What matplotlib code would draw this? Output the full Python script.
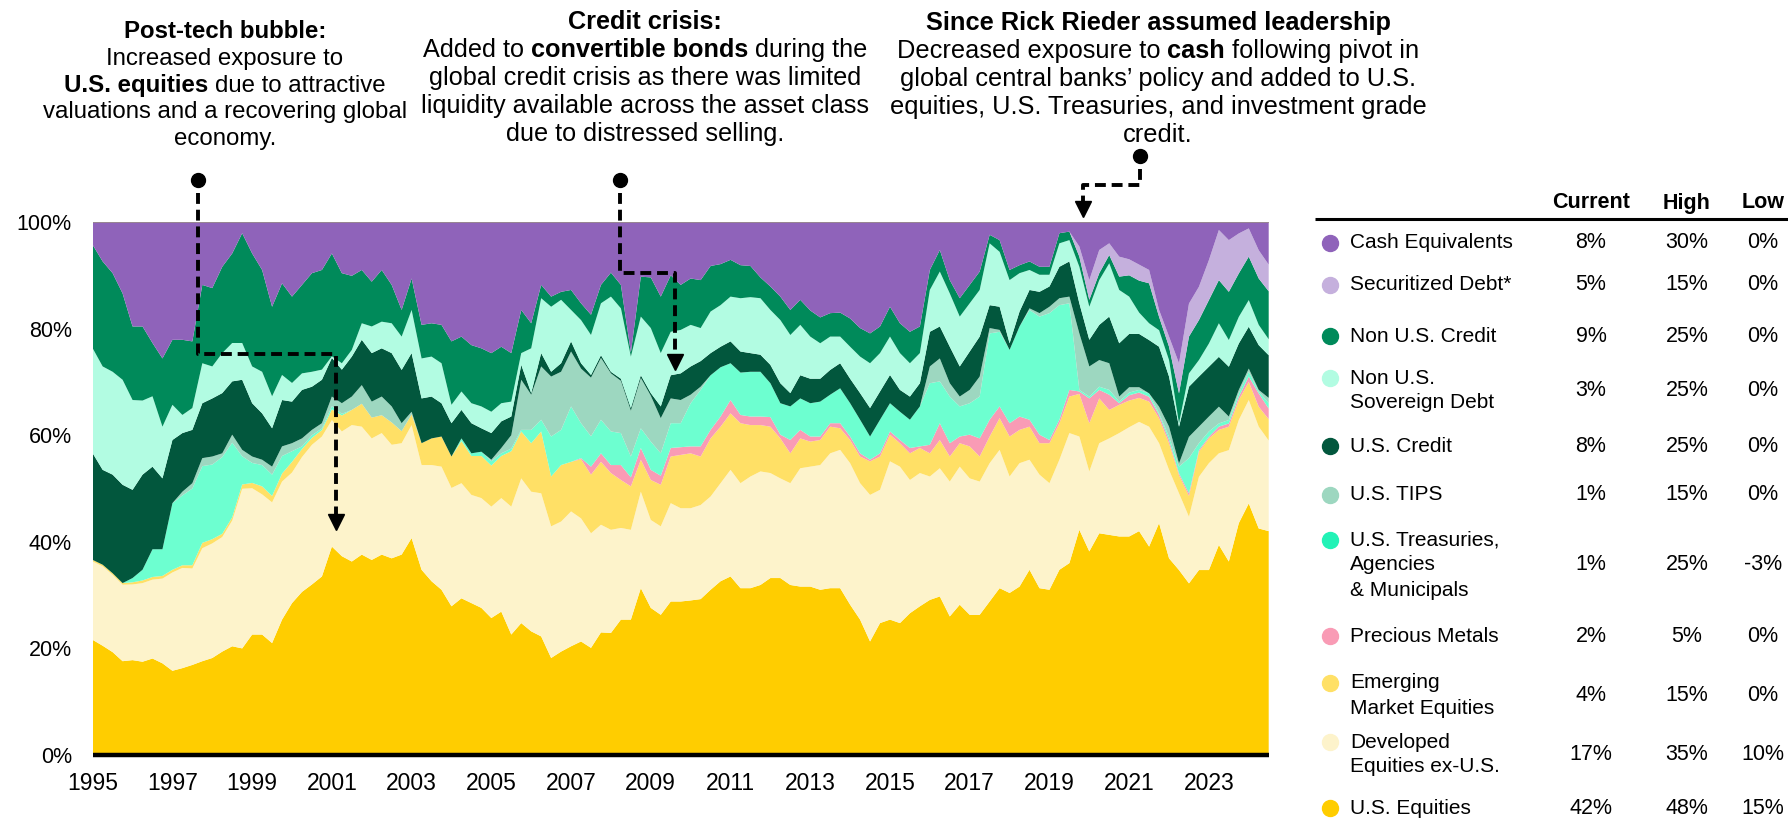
import pandas as pd
import matplotlib
matplotlib.use("Agg")
import matplotlib.pyplot as plt

plt.rcParams['font.family'] = ['Liberation Sans', 'DejaVu Sans']

# quarterly allocation, 1995Q1 .. 2024Q3 (percent of portfolio)
quarters = pd.period_range("1995Q1", "2024Q3", freq="Q")
years = quarters.year + (quarters.quarter - 1) / 4.0

us_equities = [
    21.6, 20.5, 19.3, 17.6, 17.8, 17.5, 18.1, 17.2, 15.8, 16.3, 16.9, 17.6, 18.2, 19.4, 20.4, 20, 22.6, 22.6, 21, 25.4, 28.5, 30.6, 32, 33.5, 39.1, 37.3,
    36.3, 37.6, 36.6, 37.6, 36.9, 37.6, 40.7, 34.75, 32.6, 31, 27.9, 29.4, 28.5, 27.6, 25.7, 26.9, 22.6, 24.75, 23.2, 22.25, 18.2, 19.4, 20.4, 21.3, 20.1, 23,
    22.9, 25.4, 25.4, 31.3, 27.6, 26.3, 28.8, 28.8, 29, 29.25, 31, 32.6, 33.5, 31.3, 31.3, 31.9, 33.2, 33.2, 31.9, 31.6, 31.6, 31, 31.3, 31.3, 28.2, 25.4,
    21.3, 24.75, 25.4, 24.75, 26.6, 27.9, 29.1, 29.75, 26, 28.2, 26.3, 26.3, 28.8, 31.3, 30.4, 31.6, 34.75, 31.3, 31, 34.75, 36, 42.25, 38.2, 41.6, 41.3, 41,
    41, 42, 39.1, 43.5, 36.9, 34.7, 32.2, 34.7, 34.7, 39.4, 36.3, 43.5, 47.2, 42.5, 42]
developed_ex_us = [
    14.7, 14.9, 14.5, 14.35, 14.2, 14.75, 14.8, 15.9, 18.45, 18.8, 18.1, 21.2, 21.5, 21.5, 23.6, 29.95, 27.45, 26.3, 26.4, 25.9, 24.5, 25.3, 26.2, 26.25, 23.75, 23.4,
    25.6, 24, 22.8, 22.8, 21.3, 20.9, 21.2, 19.65, 21.8, 23.1, 22.2, 21.6, 20.3, 20.6, 20.9, 21.3, 24, 27.15, 26.2, 26.85, 24.7, 24.4, 25.3, 23.1, 21.5, 20.2,
    19.35, 17.2, 16.85, 18.1, 16.5, 16.6, 18.45, 17.5, 17.3, 17.65, 17.5, 18.4, 20, 19.7, 20.95, 21.3, 19.7, 18.7, 19.1, 22.2, 22.5, 23.4, 25.3, 25.95, 26.55, 25.6,
    27.5, 25, 29.7, 29.35, 25, 25, 23.15, 24.05, 25.3, 25.9, 25.6, 25, 25.95, 25.95, 21.85, 23.15, 20.65, 21.3, 20, 20.65, 24.4, 17.5, 15, 16.9, 18.1, 19.4,
    20.5, 20.5, 22.5, 15, 16.6, 14.4, 12.5, 17.5, 20.05, 17.2, 20.9, 19.35, 19.4, 19.1, 17]
emerging_equities = [
    0.3, 0.3, 0.3, 0.3, 0.4, 0.5, 0.5, 0.5, 0.5, 0.5, 0.6, 1, 0.8, 0.6, 0.6, 0.8, 1, 1.5, 1.2, 1.5, 2, 1.5, 1.3, 1.2, 2, 3,
    2.85, 4.3, 3.9, 3.35, 4.2, 2.25, 2, 4.1, 5, 5.65, 5.9, 7.9, 7.3, 7.9, 7.7, 7.9, 10.4, 8.8, 9.1, 11.6, 9.35, 10.6, 9.3, 11.1, 11, 11.8,
    10.65, 9, 8.15, 6, 7.5, 7.8, 8.75, 10, 10.3, 9.1, 10.9, 10.6, 10.6, 11.25, 9.65, 8.7, 8.7, 7.5, 5.6, 5.6, 4.7, 4.7, 5, 4.05, 4.35, 5,
    6.3, 6.25, 5, 4.4, 5, 4.7, 4.35, 5.3, 4.7, 4.4, 6, 4.7, 5, 5.95, 7.5, 6.25, 6.2, 5.9, 7.5, 6.85, 6.85, 8, 9.05, 8.4, 5.35, 5.3,
    5, 4.5, 4.7, 4.7, 5, 3.4, 3.9, 4.7, 4.65, 4.4, 4.4, 3.75, 3.4, 3.75, 4]
precious_metals = [0.0] * 49 + [
    0.2, 1.5, 1.6,
    1.5, 2.8, 1.7, 2.2, 1.9, 1.7, 1.6, 1.45, 1.3, 1.9, 1.6, 1.9, 2.5, 1.55, 1.6, 1.6, 1.8, 0.7, 2.5, 1.6, 0.95, 0.65, 0.65, 0.95, 0.65, 0.6,
    0.3, 0.6, 0.6, 0.6, 1, 0.3, 1.6, 3.15, 2.5, 1.25, 2.2, 3.4, 3.15, 2.2, 2.5, 2.5, 1.3, 1.6, 0.6, 0.65, 1.25, 0.45, 4.65, 1.6, 2.85, 0.3,
    1, 1, 0.9, 0.6, 0.6, 0.35, 0.5, 0.3, 0.3, 0.6, 0.6, 0.6, 1, 2.5, 2]
us_treasuries = [
    0, 0, 0, 0, 0.8, 2, 5.2, 5, 12.5, 13.1, 14.4, 14.4, 14, 14.4, 14, 5.3, 3.75, 4, 4, 3.3, 2, 0.5, 0.5, 0.3, 0.6, 0.3,
    0, 0, 0, 0, 0, 0, 0, 0, 0, 0, 0, 0.5, 0.5, 0.8, 0.8, 0.5, 0.5, 0.3, 2.5, 2.2, 7.5, 6.6, 10.4, 6.55, 5.7, 6.3,
    6.3, 6, 3.9, 3.7, 5.3, 4.2, 4.65, 4.5, 8.1, 10.6, 10.25, 9.25, 6.9, 7.95, 8.4, 8.4, 6.35, 5.9, 6.3, 5.9, 6.25, 6.55, 5.35, 6.55, 6.25, 6.3,
    4.35, 6.3, 5.3, 5.3, 5.3, 7.5, 11.55, 7.85, 8.75, 5.65, 5.9, 7.85, 16.2, 14, 13.75, 16.9, 20.6, 22.15, 23.8, 21.5, 16.25, 0.3, 0.35, 0.6, 0.9, 0.3,
    0.5, 0.5, 0.65, 0.3, 0.6, 1.25, 6.6, 1.3, 1, 0.6, 0.65, 0.65, 0.9, 0.35, 1]
us_tips = [
    0, 0, 0, 0, 0, 0, 0, 0, 0, 0.7, 1, 1.5, 1.5, 0.7, 1.5, 1.2, 1.2, 1, 1.5, 1.8, 1.5, 1.5, 1, 1, 1.8, 2,
    2.5, 3.5, 3, 3.5, 3, 1.5, 0.5, 0, 0, 0, 0, 0, 0, 0, 0.3, 1, 2.5, 9.4, 6.6, 10, 11.25, 10.9, 10.3, 10.25, 11, 11.6,
    10.9, 9.8, 8.6, 9.45, 8.6, 6.6, 4.65, 4.35, 1.6, 0.6, 0, 0, 0, 0, 0, 0, 0, 0, 0, 0, 0, 0, 0, 0, 0, 0,
    0, 0, 0, 0, 0, 0, 3.15, 4.3, 2.5, 1.85, 2.5, 3.75, 1, 0.35, 0, 0, 0.3, 0.65, 1.2, 1.3, 1.25, 10.6, 5.65, 5, 5, 0.95,
    1, 0.5, 0, 1.25, 1.9, 0.6, 4, 3.1, 2.8, 3.15, 0.65, 0.65, 0.6, 0.3, 1]
us_credit = [
    20, 17.8, 18.5, 18.45, 16.55, 17.85, 15.5, 13.3, 11.85, 11, 10, 10.3, 10.9, 11.3, 10, 13.15, 10, 8.7, 7.2, 8.7, 7.8, 9.1, 8.1, 8.15, 7.25, 6.3,
    7.5, 8.5, 9.1, 9.05, 10, 10, 11, 8.4, 7.85, 6.25, 6.25, 5.35, 5.65, 4.4, 5, 5, 3.5, 2.8, 0.3, 2.5, 0.9, 1.6, 1.9, 1, 0.5, 0.5,
    0.3, 0.4, 0.5, 0.5, 0.5, 2.2, 4.35, 5, 5.3, 4.8, 4.15, 3.85, 4.1, 3.95, 3.5, 3.2, 3.45, 3.75, 2.5, 4.35, 4.6, 4.3, 4.65, 4.7, 4.6, 5,
    5.35, 5.3, 5.3, 4.1, 4.35, 4.35, 6.5, 6, 6.85, 5.65, 7.2, 7.5, 4.3, 4.35, 1.25, 2.8, 3.45, 4, 3.8, 5.9, 6.6, 5.65, 5, 6.6, 8.75, 10,
    10, 10, 10, 11.25, 9.4, 6.9, 9.4, 9.4, 9.35, 9.35, 9.35, 8.7, 7.85, 8.4, 8]
non_us_sovereign = [
    19.7, 19.4, 19.3, 19.7, 16.85, 13.9, 13.2, 9.7, 6.6, 3.4, 4.1, 7.5, 6, 7.5, 7.2, 6.9, 6.9, 7.8, 6, 4.7, 3.5, 3.1, 2.8, 1.9, 0.3, 1.2,
    1.25, 3.1, 5, 5, 5.6, 6.25, 8.1, 7.5, 7.5, 7.5, 3.45, 3.45, 3.75, 4.1, 4, 3.4, 2.8, 2.2, 8.4, 10.3, 12.2, 11.9, 5.9, 8.1, 7.5, 9.75,
    14.1, 13.2, 9.65, 11, 12.2, 10, 8.15, 8.15, 7.8, 6.2, 7.8, 7.8, 8.4, 10, 10.5, 10.6, 10.3, 11.85, 10.9, 9.45, 7.9, 6.65, 6.25, 5, 6, 6.85,
    8.4, 7.2, 7.2, 6.9, 6.25, 5.65, 7.85, 10.3, 10, 9.35, 9.05, 8.75, 11.6, 10.3, 11.85, 7.2, 3.75, 3.2, 2.2, 4.4, 4, 6.85, 6.2, 8.4, 10, 10,
    7, 4, 3.15, 3.1, 3.1, 0.6, 2.5, 3.1, 4.35, 6.3, 5, 5, 5, 3.8, 3]
non_us_credit = [
    19.4, 19.7, 18.5, 16.2, 13.8, 13.9, 10, 12.8, 12.2, 14.1, 12.5, 14.7, 14.7, 16.2, 16.8, 20.6, 21.2, 19.1, 16.8, 17.2, 16.2, 16.6, 18.5, 18.7, 19.3, 16.9,
    13.9, 10, 8.4, 9.7, 7.2, 5, 5.9, 6.3, 6.25, 7.2, 11.9, 10.3, 10.9, 10.9, 11, 10.6, 9.1, 8.1, 4.7, 2.5, 1.9, 1.5, 3.75, 3.15, 3.8, 3.45,
    4.5, 4.4, 0.75, 7.5, 9.5, 10.6, 10.6, 8.45, 8.7, 9, 8.55, 7.7, 6.9, 6.2, 5.85, 3.9, 4.4, 4.4, 4.7, 4.7, 4.9, 4.85, 4.4, 4.5, 5.3, 5.35,
    5.6, 5, 5.6, 5.6, 5.9, 5, 3.75, 4.05, 2.5, 3.45, 3.45, 3.45, 1.6, 2.2, 1.9, 1.5, 1.6, 1.5, 1.5, 1.9, 1.6, 1.9, 1.3, 1.3, 1.55, 2.5,
    4, 6, 7.5, 2.5, 2.5, 5.65, 6.9, 7.5, 8.15, 8.1, 9.05, 8.15, 8.15, 8.7, 9]
securitized_debt = [0.0] * 99 + [
    1.9, 3.7, 4.35, 2.2, 3.75,
    3, 3, 2.5, 1.3, 1.9, 5.65, 6.2, 6.25, 7.5, 9.4, 9.7, 7.5, 5.3, 5.3, 5]
cash_equivalents = [
    4.3, 7.4, 9.6, 13.4, 19.6, 19.6, 22.7, 25.6, 22.1, 22.1, 22.4, 11.8, 12.4, 8.4, 5.9, 2.1, 5.9, 9, 15.9, 11.5, 14, 11.8, 9.6, 9, 5.9, 9.6,
    10.1, 9, 11.2, 9, 11.8, 16.5, 10.6, 19.3, 19, 19.3, 22.4, 21.5, 23.1, 23.7, 24.6, 23.4, 24.6, 16.5, 19, 11.8, 14, 13.1, 12.75, 15.25, 17.4, 11.8,
    9.5, 11.8, 24.5, 10.25, 10.4, 14, 10, 11.8, 10.6, 10.9, 8.25, 7.9, 7.1, 8.1, 8.25, 10.4, 12.1, 14, 16.5, 14.6, 16.6, 17.9, 17.1, 17, 18.1, 19.9,
    20.9, 19.6, 15.9, 19, 20.6, 19.6, 9, 5.25, 10.9, 14.3, 11.8, 9.3, 2.4, 3.4, 9, 8.1, 7.4, 8.4, 8.4, 2.1, 1.8, 4.6, 10.9, 5.25, 4, 6.5,
    7, 8, 9, 16.5, 21.5, 26.5, 15.3, 12.15, 7.15, 1.5, 3.4, 2.15, 1.2, 5.3, 8]

# table on the right (top to bottom)
table_labels = [["Cash Equivalents"], ["Securitized Debt*"], ["Non U.S. Credit"],
                ["Non U.S.", "Sovereign Debt"], ["U.S. Credit"], ["U.S. TIPS"],
                ["U.S. Treasuries,", "Agencies", "& Municipals"], ["Precious Metals"],
                ["Emerging", "Market Equities"], ["Developed", "Equities ex-U.S."], ["U.S. Equities"]]
current = ["8%", "5%", "9%", "3%", "8%", "1%", "1%", "2%", "4%", "17%", "42%"]
high = ["30%", "15%", "25%", "25%", "25%", "15%", "25%", "5%", "15%", "35%", "48%"]
low = ["0%", "0%", "0%", "0%", "0%", "0%", "-3%", "0%", "0%", "10%", "15%"]

series = [us_equities, developed_ex_us, emerging_equities, precious_metals, us_treasuries,
          us_tips, us_credit, non_us_sovereign, non_us_credit, securitized_debt, cash_equivalents]
colors = ['#FFCD00', '#FDF3CB', '#FFE066', '#F99BB5', '#6DFFD0',
          '#9DD7C0', '#02573D', '#B2FCE2', '#008A5A', '#C5B0DD', '#8F63BA']
dot_colors = ['#8F63BA', '#C5B0DD', '#008A5A', '#B2FCE2', '#02573D', '#9DD7C0',
              '#22F2B6', '#F99BB5', '#FFE066', '#FDF3CB', '#FFCD00']

W, H = 1788, 819
fig = plt.figure(figsize=(W / 100, H / 100), dpi=100)
ax = fig.add_axes([92.7 / W, (H - 755) / H, 1176 / W, 533 / H])

ax.stackplot(years, *series, colors=colors, linewidth=0)
ax.set_xlim(1995, 2024.5)
ax.set_ylim(0, 100)
ax.axhline(100, color='#9a8c8c', lw=1.2)
ax.plot([1995, 2024.5], [0, 0], color='black', lw=3.2, clip_on=False, solid_capstyle='butt')
for s in ax.spines.values():
    s.set_visible(False)
ax.set_yticks(range(0, 101, 20))
ax.set_yticklabels([f"{v}%" for v in range(0, 101, 20)])
ax.set_xticks(range(1995, 2024, 2))
ax.tick_params(axis='y', length=0, pad=15, labelsize=15.5)
ax.tick_params(axis='x', length=0, pad=12, labelsize=16.5)

# dashed connectors with pins and arrow heads
dash = dict(color='black', lw=2.8, dashes=(2.8, 1.5), clip_on=False, dash_capstyle='butt')
ax.plot([1997.63, 1997.63, 2001.1, 2001.1], [105.5, 75.25, 75.25, 44.5], **dash)
ax.plot([2008.22, 2008.22, 2009.6, 2009.6], [105.5, 90.4, 90.4, 74.5], **dash)
ax.plot([2021.27, 2021.27, 2019.83, 2019.83], [110, 106.9, 106.9, 103.5], **dash)
for x, y in [(1997.63, 107.9), (2008.22, 107.9), (2021.27, 112.3)]:
    ax.plot(x, y, 'o', color='black', ms=10, clip_on=False)
for x, y in [(2001.1, 42.25), (2009.6, 72.25), (2019.83, 101.0)]:
    ax.plot(x, y + 1.45, 'v', color='black', ms=11, clip_on=False)

# overlay in pixel coordinates for text and table
ov = fig.add_axes([0, 0, 1, 1], zorder=5)
ov.set_xlim(0, W)
ov.set_ylim(H, 0)
ov.axis('off')
renderer = fig.canvas.get_renderer()


def text_width(s, weight, size):
    t = ov.text(0, 0, s, fontsize=size, fontweight=weight)
    w = t.get_window_extent(renderer).width
    t.remove()
    return w


def rich_line(cx, y, parts, size):
    space_w = text_width("x x", 'normal', size) - text_width("xx", 'normal', size)
    widths = [text_width(s, w, size) for s, w in parts]
    x = cx - (sum(widths) + space_w * (len(parts) - 1)) / 2
    for (s, w), wd in zip(parts, widths):
        ov.text(x, y, s, fontsize=size, fontweight=w, va='center', ha='left')
        x += wd + space_w


notes = [
    (225, 32, 26.8, 17.3, [[("Post-tech bubble:", 'bold')],
                           [("Increased exposure to", 'normal')],
                           [("U.S. equities", 'bold'), ("due to attractive", 'normal')],
                           [("valuations and a recovering global", 'normal')],
                           [("economy.", 'normal')]]),
    (645, 22, 28.1, 18.2, [[("Credit crisis:", 'bold')],
                           [("Added to", 'normal'), ("convertible bonds", 'bold'), ("during the", 'normal')],
                           [("global credit crisis as there was limited", 'normal')],
                           [("liquidity available across the asset class", 'normal')],
                           [("due to distressed selling.", 'normal')]]),
    (1158, 23, 28, 18.3, [[("Since Rick Rieder assumed leadership", 'bold')],
                          [("Decreased exposure to", 'normal'), ("cash", 'bold'), ("following pivot in", 'normal')],
                          [("global central banks\u2019 policy and added to U.S.", 'normal')],
                          [("equities, U.S. Treasuries, and investment grade", 'normal')],
                          [("credit.", 'normal')]]),
]
for cx, y0, gap, size, lines in notes:
    for k, parts in enumerate(lines):
        rich_line(cx, y0 + gap * k, parts, size)

# table
tsize = 15
col_x = [1591, 1687, 1763]
for x, h in zip(col_x, ["Current", "High", "Low"]):
    ov.text(x, 203, h, fontsize=tsize + 0.5, fontweight='bold', ha='center', va='center')
ov.plot([1315, W], [219, 219], color='black', lw=2.2, solid_capstyle='butt')

row_first = [243, 285, 336, 378, 446, 495, 540, 636, 683, 742, 808]
line_gap = 25
for i, lines in enumerate(table_labels):
    y0 = row_first[i]
    ov.plot(1330, y0, 'o', color=dot_colors[i], ms=11.5)
    for k, s in enumerate(lines):
        ov.text(1350, y0 + k * line_gap, s, fontsize=tsize, ha='left', va='center')
    yc = y0 + (len(lines) - 1) * line_gap / 2
    for x, v in zip(col_x, [current[i], high[i], low[i]]):
        ov.text(x, yc, v, fontsize=tsize + 0.5, ha='center', va='center')

fig.savefig("out.png", dpi=100)
